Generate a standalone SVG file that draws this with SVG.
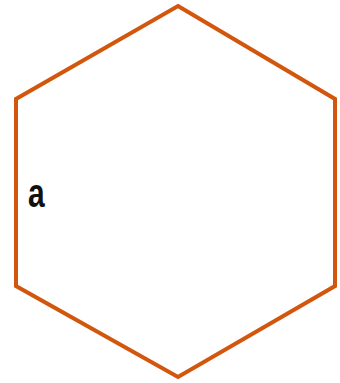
<svg xmlns="http://www.w3.org/2000/svg" width="340" height="383" viewBox="0 0 340 383">
<style>
.hex{fill:#fff;stroke:#D2560C;stroke-width:4;stroke-linejoin:miter}
.lbl{font-family:"Liberation Sans",Arial,sans-serif;font-weight:bold;font-size:30px;fill:#111}
</style>
<rect width="340" height="383" fill="#fff"/>
<g id="hexagon">
<polygon class="hex" points="178,6 335,99 335,286 178,377 16,286 16,99"/>
</g>
<g id="label-a">
<text class="lbl" transform="translate(28,207) scale(1,1.35)">a</text>
</g>
<g id="connectors"></g>
</svg>
